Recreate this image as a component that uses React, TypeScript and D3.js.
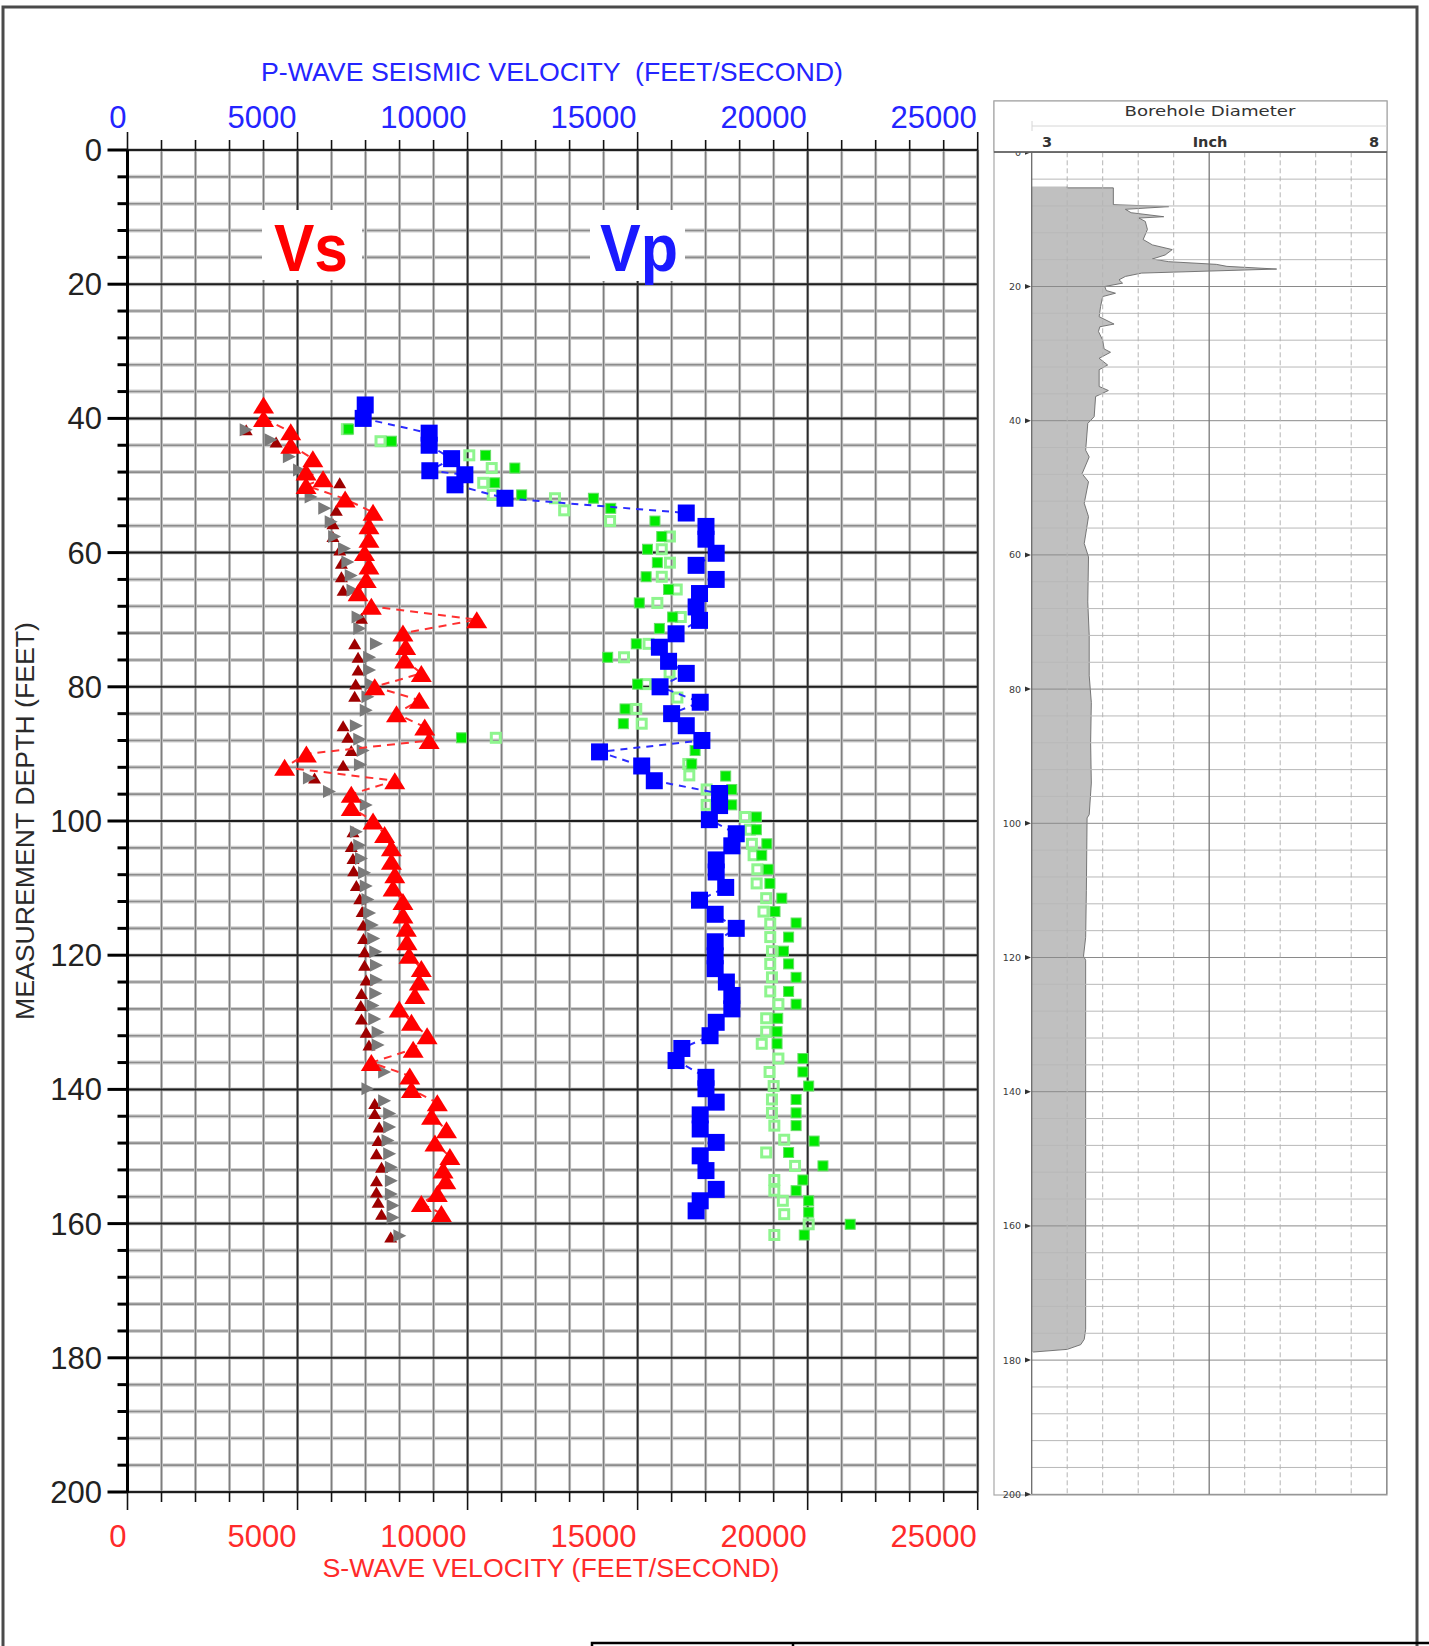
import React from "react";
import * as d3 from "d3";

// ---- axis labels ----
const depthLabels = [0, 20, 40, 60, 80, 100, 120, 140, 160, 180, 200];
const velocityLabels = [0, 5000, 10000, 15000, 20000, 25000];
const caliperDepthLabels = [0, 20, 40, 60, 80, 100, 120, 140, 160, 180, 200];

// ---- S-wave series: [depth ft, velocity ft/s] ----
const vsMain: [number, number][] = [
  [38, 4000], [40, 4000], [42, 4800], [44, 4800], [46, 5450], [48, 5250], [49, 5750], [50, 5250],
  [52, 6400], [54, 7220], [56, 7100], [58, 7100], [60, 6970], [62, 7100], [64, 7020], [66, 6780],
  [68, 7170], [70, 10270], [72, 8100], [74, 8180], [76, 8150], [78, 8640], [80, 7270], [82, 8580],
  [84, 7910], [86, 8740], [88, 8870], [90, 5260], [92, 4620], [94, 7860], [96, 6580], [98, 6580],
  [100, 7220], [102, 7560], [104, 7760], [106, 7760], [108, 7860], [110, 7810], [112, 8100], [114, 8100],
  [116, 8200], [118, 8220], [120, 8280], [122, 8640], [124, 8580], [126, 8450], [128, 7990], [130, 8350],
  [132, 8810], [134, 8400], [136, 7170], [138, 8300], [140, 8350], [142, 9110], [144, 8940], [146, 9380],
  [148, 9040], [150, 9480], [152, 9280], [153.6, 9360], [155.5, 9110], [157, 8640], [158.5, 9230],
];

const vsDownhole: [number, number][] = [
  [41.7, 3490], [43.5, 4370], [49.6, 6240], [53.7, 6140], [55.7, 6040], [57.6, 6040], [59.6, 6240],
  [61.6, 6290], [63.6, 6290], [65.6, 6340], [69.8, 6880], [73.6, 6680], [75.6, 6780], [77.5, 6780],
  [79.6, 6710], [81.4, 6680], [85.8, 6340], [87.5, 6480], [89.5, 6580], [91.7, 6340], [93.6, 5500],
  [101.6, 6630], [103.8, 6580], [105.6, 6630], [107.4, 6650], [109.6, 6730], [111.6, 6830], [113.5, 6900],
  [115.5, 6930], [117.5, 6940], [119.5, 6970], [121.5, 6970], [123.7, 7020], [125.7, 6880], [127.5, 6860],
  [129.5, 6880], [131.5, 7020], [133.4, 7100], [142.1, 7270], [143.6, 7270], [145.6, 7400], [147.6, 7370],
  [149.6, 7320], [151.6, 7470], [153.6, 7320], [155.3, 7320], [156.8, 7370], [158.6, 7470], [162.0, 7740],
];

const vsInterval: [number, number][] = [
  [41.7, 3490], [43.2, 4220], [45.7, 4760], [47.7, 5060], [51.7, 5400], [53.4, 5800], [55.4, 5990],
  [57.6, 6090], [59.4, 6380], [61.4, 6480], [63.4, 6580], [65.6, 6630], [69.6, 6780], [71.3, 6830],
  [73.6, 7320], [75.6, 7120], [77.5, 7120], [79.6, 7170], [81.5, 7070], [83.5, 7020], [85.8, 6730],
  [87.8, 6830], [89.5, 6930], [91.6, 6850], [93.6, 5350], [95.6, 5940], [97.6, 7020], [101.6, 6730],
  [103.6, 6830], [105.6, 6880], [107.7, 6970], [109.7, 7020], [111.7, 7070], [113.7, 7120], [115.5, 7200],
  [117.5, 7240], [119.5, 7300], [121.5, 7320], [123.7, 7320], [125.7, 7300], [127.5, 7220], [129.5, 7270],
  [131.5, 7370], [133.4, 7370], [137.4, 7560], [139.9, 7070], [141.7, 7560], [143.6, 7710], [145.6, 7710],
  [147.6, 7660], [149.6, 7710], [151.6, 7760], [153.6, 7760], [155.6, 7760], [157.3, 7810], [159.1, 7810],
  [161.8, 8010],
];

// ---- P-wave series: [depth ft, velocity ft/s] ----
const vpMain: [number, number][] = [
  [38.0, 6990], [40.0, 6930], [42.2, 8870], [44.0, 8870], [46.0, 9530], [47.8, 8890], [48.4, 9920],
  [49.9, 9630], [51.9, 11100], [54.1, 16430], [56.1, 17010], [58.0, 17010], [60.1, 17310], [61.9, 16720],
  [64.0, 17310], [66.1, 16820], [68.1, 16720], [70.1, 16820], [72.1, 16130], [74.1, 15640], [76.2, 15910],
  [78.0, 16430], [80.0, 15660], [82.3, 16840], [84.0, 16000], [85.8, 16430], [88.0, 16890], [89.7, 13880],
  [91.8, 15120], [94.0, 15490], [95.9, 17410], [97.7, 17410], [99.8, 17110], [101.9, 17900], [103.7, 17770],
  [105.8, 17310], [107.6, 17310], [109.9, 17590], [111.8, 16820], [113.9, 17280], [116.0, 17900], [118.0, 17280],
  [120.1, 17280], [122.0, 17280], [124.0, 17610], [126.0, 17770], [128.0, 17770], [130.0, 17310], [132.0, 17130],
  [133.9, 16300], [135.7, 16130], [138.2, 17010], [139.9, 17010], [141.9, 17310], [143.8, 16840], [145.9, 16840],
  [147.9, 17310], [149.9, 16840], [152.1, 17010], [154.9, 17310], [156.6, 16840], [158.1, 16720],
];

const vpDownhole: [number, number][] = [
  [41.6, 6500], [43.4, 7760], [45.5, 10530], [47.4, 11390], [49.6, 10800], [51.4, 11590], [51.9, 13700],
  [53.4, 14210], [55.3, 15510], [57.6, 15710], [59.5, 15290], [61.5, 15580], [63.6, 15250], [65.5, 15910],
  [67.5, 15050], [69.6, 16030], [71.3, 15640], [73.6, 14960], [75.6, 14120], [79.6, 15000], [83.3, 14630],
  [85.5, 14580], [87.6, 9820], [89.5, 16690], [91.5, 16590], [93.3, 17590], [95.3, 17770], [97.6, 17770],
  [99.4, 18490], [101.3, 18490], [103.4, 18800], [105.1, 18650], [107.2, 18840], [109.3, 18890], [111.5, 19240],
  [113.5, 19040], [115.2, 19660], [117.3, 19440], [119.4, 19290], [121.3, 19440], [123.3, 19660], [125.4, 19440],
  [127.3, 19660], [129.4, 19120], [131.4, 19100], [133.2, 19100], [135.4, 19860], [137.4, 19860], [139.5, 20030],
  [141.5, 19660], [143.5, 19660], [145.4, 19660], [147.7, 20190], [149.4, 19440], [151.4, 20450], [153.5, 19860],
  [155.1, 19660], [156.6, 20030], [158.3, 20030], [160.1, 21250], [161.7, 19900],
];

const vpInterval: [number, number][] = [
  [41.6, 6450], [43.4, 7440], [45.5, 10050], [47.4, 10710], [49.6, 10460], [51.4, 10740], [51.9, 12570],
  [53.7, 12840], [55.3, 14190], [57.6, 15950], [59.5, 15710], [61.5, 15950], [63.6, 15710], [65.5, 16150],
  [67.5, 15580], [69.6, 16270], [73.6, 15320], [75.6, 14600], [77.9, 15940], [79.6, 15250], [81.6, 16170],
  [83.3, 14960], [85.5, 15120], [87.6, 10830], [91.5, 16490], [93.2, 16520], [95.3, 17030], [97.6, 17030],
  [99.4, 18160], [101.3, 18300], [103.4, 18360], [105.1, 18410], [107.2, 18520], [109.3, 18500], [111.5, 18780],
  [113.5, 18700], [115.3, 18900], [117.3, 18900], [119.4, 18950], [121.3, 18900], [123.3, 18950], [125.4, 18900],
  [127.3, 19140], [129.4, 18780], [131.4, 18780], [133.2, 18650], [135.4, 19140], [137.4, 18880], [139.5, 19000],
  [141.5, 18950], [143.5, 18950], [145.4, 19020], [147.5, 19310], [149.4, 18780], [151.4, 19630], [153.5, 19020],
  [155.1, 19020], [156.6, 19270], [158.6, 19310], [160.1, 20030], [161.7, 19020],
];

// ---- caliper log: [depth ft, diameter inch] ----
const caliper: [number, number][] = [
  [5.1, 3.5], [5.3, 3.5], [5.3, 4.15], [7.8, 4.15], [8.1, 4.93], [8.5, 4.32], [9.0, 4.4], [9.6, 4.86],
  [9.8, 4.51], [10.3, 4.6], [11.5, 4.63], [13.0, 4.57], [13.8, 4.7], [14.5, 4.98], [15.3, 4.88], [15.9, 4.7],
  [16.3, 4.93], [16.7, 5.6], [17.0, 5.75], [17.4, 6.45], [17.7, 5.5], [18.0, 4.55], [18.5, 4.32], [19.0, 4.23],
  [19.5, 4.28], [20.0, 4.03], [20.6, 4.05], [21.0, 4.18], [21.5, 4.0], [23.0, 3.97], [24.5, 3.95], [25.6, 4.16],
  [26.0, 3.96], [26.7, 3.94], [28.0, 4.0], [29.3, 4.02], [29.8, 4.11], [30.7, 3.95], [31.7, 4.07], [32.4, 3.95],
  [34.9, 3.95], [35.5, 4.08], [36.4, 3.9], [39.4, 3.88], [40.4, 3.79], [44.4, 3.76], [45.4, 3.81], [47.9, 3.71],
  [49.1, 3.8], [52.3, 3.74], [54.3, 3.8], [58.3, 3.74], [60.3, 3.8], [67.0, 3.79], [72, 3.81], [78, 3.81],
  [82, 3.84], [88, 3.83], [94, 3.84], [98.7, 3.81], [99.2, 3.78], [110, 3.77], [117, 3.76], [119.8, 3.73],
  [120.4, 3.76], [140, 3.76], [160, 3.76], [175.4, 3.76], [176.9, 3.74], [177.7, 3.69], [178.4, 3.5], [178.8, 3.02],
];

const FONT = "'Liberation Sans', Arial, Helvetica, sans-serif";
const SMALL_FONT = "'DejaVu Sans', Verdana, sans-serif";

export default function App() {
  const W = 1429;
  const H = 1646;

  // main velocity/depth plot
  const x = d3.scaleLinear().domain([0, 25000]).range([127.5, 977.7]);
  const y = d3.scaleLinear().domain([0, 200]).range([150, 1492]);
  const [x0, x1] = x.range();
  const [y0, y1] = y.range();

  // caliper panel
  const bx = d3.scaleLinear().domain([3, 8]).range([1031.7, 1386.7]);
  const by = d3.scaleLinear().domain([0, 200]).range([152.3, 1494.3]);

  const minorV = d3.range(0, 25001, 1000);
  const minorH = d3.range(0, 201, 4);

  const path = d3
    .line<[number, number]>()
    .x((d) => x(d[1]))
    .y((d) => y(d[0]));

  const caliperArea = d3
    .area<[number, number]>()
    .x0(bx(3))
    .x1((d) => bx(d[1]))
    .y((d) => by(d[0]));
  const caliperLine = d3
    .line<[number, number]>()
    .x((d) => bx(d[1]))
    .y((d) => by(d[0]));

  const triUp = (cx: number, cy: number, hw: number, hh: number) =>
    `M${cx},${cy - hh}L${cx + hw},${cy + hh}L${cx - hw},${cy + hh}Z`;
  const triRight = (cx: number, cy: number, hw: number, hh: number) =>
    `M${cx - hw},${cy - hh}L${cx + hw},${cy}L${cx - hw},${cy + hh}Z`;

  const caliperH = d3.range(0, 201, 4);
  const caliperV = d3.range(3.5, 8, 0.5);

  return (
    <div style={{ position: "absolute", left: 0, top: 0, width: W, height: H, overflow: "hidden" }}>
      <svg width={W} height={H} style={{ display: "block", background: "#fff" }}>
        <rect x={0} y={0} width={W} height={H} fill="#fff" />
        {/* outer frame */}
        <rect x={3} y={7} width={1414} height={1700} fill="none" stroke="#4a4a4a" strokeWidth={3} />
        {/* table edge along the bottom */}
        <rect x={592} y={1643} width={900} height={30} fill="none" stroke="#000" strokeWidth={2.5} />
        <line x1={793} x2={793} y1={1643} y2={1646} stroke="#000" strokeWidth={2.5} />

        {/* ---------- main plot grid ---------- */}
        <g>
          {minorH.map((d) => (
            <g key={"h" + d}>
              <line x1={x0} x2={x1} y1={y(d)} y2={y(d)} stroke="#cfcfcf" strokeWidth={4} />
              <line x1={x0} x2={x1} y1={y(d)} y2={y(d)} stroke="#8c8c8c" strokeWidth={1.6} />
            </g>
          ))}
          {minorV.map((v) => (
            <g key={"v" + v}>
              <line x1={x(v)} x2={x(v)} y1={y0} y2={y1} stroke="#c8c8c8" strokeWidth={3} />
              <line x1={x(v)} x2={x(v)} y1={y0} y2={y1} stroke="#7e7e7e" strokeWidth={1.3} />
            </g>
          ))}
          {depthLabels.map((d) => (
            <line key={"H" + d} x1={x0} x2={x1} y1={y(d)} y2={y(d)} stroke="#1e1e1e" strokeWidth={2} />
          ))}
          {velocityLabels.map((v) => (
            <line key={"V" + v} x1={x(v)} x2={x(v)} y1={y0} y2={y1} stroke="#2a2a2a" strokeWidth={1.8} />
          ))}
        </g>

        {/* axes */}
        <line x1={x0} x2={x0} y1={y0} y2={y1 + 1} stroke="#000" strokeWidth={3} />
        {minorH.map((d) => (
          <line
            key={"lt" + d}
            x1={x0 - (d % 20 === 0 ? 20 : 10)}
            x2={x0}
            y1={y(d)}
            y2={y(d)}
            stroke="#000"
            strokeWidth={3}
          />
        ))}
        {minorV.map((v) => (
          <g key={"tt" + v}>
            <line x1={x(v)} x2={x(v)} y1={y0 - (v % 5000 === 0 ? 18 : 10)} y2={y0} stroke="#111" strokeWidth={1.6} />
            <line x1={x(v)} x2={x(v)} y1={y1} y2={y1 + (v % 5000 === 0 ? 18 : 10)} stroke="#111" strokeWidth={1.6} />
          </g>
        ))}

        {/* depth labels */}
        {depthLabels.map((d) => (
          <text key={"dl" + d} x={102} y={y(d) + 11} textAnchor="end" fontFamily={FONT} fontSize={31} fill="#222">
            {d}
          </text>
        ))}
        {/* P-wave (top) and S-wave (bottom) labels */}
        {velocityLabels.map((v) => (
          <text key={"tl" + v} x={x(v) - 1} y={128} textAnchor="end" fontFamily={FONT} fontSize={31} fill="#2424ff">
            {v}
          </text>
        ))}
        {velocityLabels.map((v) => (
          <text key={"bl" + v} x={x(v) - 1} y={1547} textAnchor="end" fontFamily={FONT} fontSize={31} fill="#ff2a2a">
            {v}
          </text>
        ))}

        <text
          x={552}
          y={81}
          textAnchor="middle"
          fontFamily={FONT}
          fontSize={26.5}
          fill="#2424ff"
          textLength={582}
          lengthAdjust="spacingAndGlyphs"
          style={{ whiteSpace: "pre" }}
        >
          {"P-WAVE SEISMIC VELOCITY  (FEET/SECOND)"}
        </text>
        <text x={551} y={1577} textAnchor="middle" fontFamily={FONT} fontSize={26.5} fill="#ff2a2a" textLength={457} lengthAdjust="spacingAndGlyphs">
          S-WAVE VELOCITY (FEET/SECOND)
        </text>
        <text
          transform="translate(34,821) rotate(-90)"
          textAnchor="middle"
          fontFamily={FONT}
          fontSize={26}
          fill="#2a2a2a"
          textLength={398}
          lengthAdjust="spacingAndGlyphs"
        >
          MEASUREMENT DEPTH (FEET)
        </text>

        {/* series labels */}
        <rect x={262} y={210} width={100} height={70} fill="#fff" />
        <rect x={590} y={210} width={95} height={71} fill="#fff" />
        <text x={311} y={271} textAnchor="middle" fontFamily={FONT} fontWeight="bold" fontSize={66} fill="#ff0000" textLength={74} lengthAdjust="spacingAndGlyphs">
          Vs
        </text>
        <text x={639} y={271} textAnchor="middle" fontFamily={FONT} fontWeight="bold" fontSize={66} fill="#1a1aff" textLength={78} lengthAdjust="spacingAndGlyphs">
          Vp
        </text>

        {/* ---------- P-wave data ---------- */}
        {vpInterval.map((d, i) => (
          <rect key={"pi" + i} x={x(d[1]) - 4.5} y={y(d[0]) - 4.5} width={9} height={9} fill="none" stroke="#8ef58e" strokeWidth={3} />
        ))}
        {vpDownhole.map((d, i) => (
          <rect key={"pd" + i} x={x(d[1]) - 5} y={y(d[0]) - 5} width={10} height={10} fill="#00ea00" stroke="#66dd66" strokeWidth={1} />
        ))}
        <path d={path(vpMain) || ""} fill="none" stroke="#2b2bff" strokeWidth={2} strokeDasharray="7,6" />
        {vpMain.map((d, i) => (
          <rect key={"pm" + i} x={x(d[1]) - 8.5} y={y(d[0]) - 8.5} width={17} height={17} fill="#0000ff" />
        ))}

        {/* ---------- S-wave data ---------- */}
        {vsDownhole.map((d, i) => (
          <path key={"sd" + i} d={triUp(x(d[1]), y(d[0]), 6.5, 5.5)} fill="#9e0000" />
        ))}
        {vsInterval.map((d, i) => (
          <path key={"si" + i} d={triRight(x(d[1]), y(d[0]), 6.5, 6.5)} fill="#7a7a7a" />
        ))}
        <path d={path(vsMain) || ""} fill="none" stroke="#ff3030" strokeWidth={2} strokeDasharray="8,6" />
        {vsMain.map((d, i) => (
          <path key={"sm" + i} d={triUp(x(d[1]), y(d[0]), 10.5, 8.5)} fill="#ff0000" />
        ))}

        {/* ---------- caliper panel ---------- */}
        <rect x={994} y={101} width={393} height={1394} fill="#fff" stroke="#a8a8a8" strokeWidth={1.2} />
        <path d={caliperArea(caliper) || ""} fill="#c0c0c0" />
        <path d={caliperLine(caliper) || ""} fill="none" stroke="#6a6a6a" strokeWidth={0.9} />
        {caliperH.map((d) => (
          <line
            key={"ch" + d}
            x1={bx(3)}
            x2={bx(8)}
            y1={by(d)}
            y2={by(d)}
            stroke={d % 20 === 0 ? "#8a8a8a" : "#b8b8b8"}
            strokeWidth={1}
          />
        ))}
        {caliperV.map((v) => (
          <line
            key={"cv" + v}
            x1={bx(v)}
            x2={bx(v)}
            y1={by(0)}
            y2={by(200)}
            stroke={v === 5.5 ? "#7a7a7a" : "#b4b4b4"}
            strokeWidth={v === 5.5 ? 1.3 : 1}
            strokeDasharray={v === 5.5 ? undefined : "5,3"}
          />
        ))}
        <line x1={bx(3)} x2={bx(3)} y1={by(0)} y2={by(200)} stroke="#6a6a6a" strokeWidth={1.3} />
        <line x1={bx(8)} x2={bx(8)} y1={by(0)} y2={by(200)} stroke="#8a8a8a" strokeWidth={1.2} />
        {caliperDepthLabels.map((d) => (
          <g key={"cl" + d}>
            <text x={1021} y={by(d) + 3.5} textAnchor="end" fontFamily={SMALL_FONT} fontSize={9.5} fill="#3a3a3a">
              {d}
            </text>
            <path d={`M${1025},${by(d) - 2.5}L${1031},${by(d)}L${1025},${by(d) + 2.5}Z`} fill="#333" />
          </g>
        ))}
        {/* panel header */}
        <rect x={994} y={101} width={393} height={51} fill="#fff" stroke="#a8a8a8" strokeWidth={1.2} />
        <line x1={994} x2={1387} y1={152} y2={152} stroke="#555" strokeWidth={1.6} />
        <line x1={1032} x2={1387} y1={126} y2={126} stroke="#d6d6d6" strokeWidth={1} />
        <line x1={1032} x2={1032} y1={121} y2={131} stroke="#d6d6d6" strokeWidth={1} />
        <text x={1210} y={115.5} textAnchor="middle" fontFamily={SMALL_FONT} fontSize={14.5} fill="#333" textLength={171} lengthAdjust="spacingAndGlyphs">
          Borehole Diameter
        </text>
        <text x={1042} y={147} fontFamily={SMALL_FONT} fontSize={14.5} fontWeight="bold" fill="#333">
          3
        </text>
        <text x={1210} y={147} textAnchor="middle" fontFamily={SMALL_FONT} fontSize={14.5} fontWeight="bold" fill="#333">
          Inch
        </text>
        <text x={1379} y={147} textAnchor="end" fontFamily={SMALL_FONT} fontSize={14.5} fontWeight="bold" fill="#333">
          8
        </text>
      </svg>
    </div>
  );
}
